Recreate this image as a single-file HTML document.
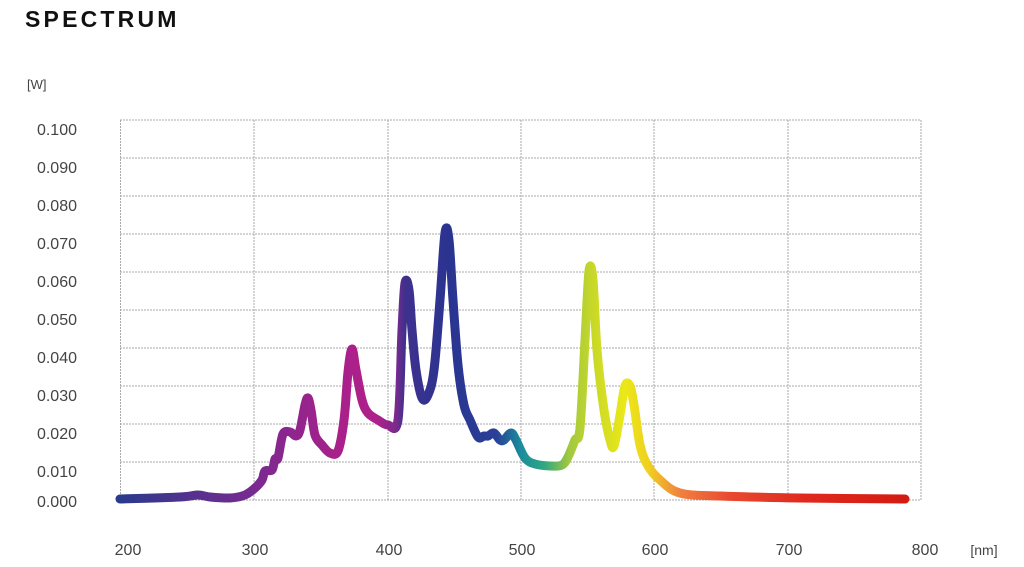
<!DOCTYPE html>
<html><head><meta charset="utf-8"><style>
html,body{margin:0;padding:0;background:#fff;}
svg{display:block;}
</style></head><body>
<svg width="1024" height="567" xmlns="http://www.w3.org/2000/svg">
<defs>
<linearGradient id="g" gradientUnits="userSpaceOnUse" x1="120" y1="0" x2="921" y2="0">
<stop offset="0" stop-color="#2a3a8c"/>
<stop offset="0.17" stop-color="#7a2a90"/>
<stop offset="0.27" stop-color="#a8208a"/>
<stop offset="0.32" stop-color="#b0208a"/>
<stop offset="0.345" stop-color="#7a2a8c"/>
<stop offset="0.355" stop-color="#40308e"/>
<stop offset="0.41" stop-color="#2a3490"/>
<stop offset="0.47" stop-color="#2a4098"/>
<stop offset="0.5" stop-color="#1a8c9c"/>
<stop offset="0.53" stop-color="#30a880"/>
<stop offset="0.56" stop-color="#a0c840"/>
<stop offset="0.59" stop-color="#c8d828"/>
<stop offset="0.63" stop-color="#eae818"/>
<stop offset="0.66" stop-color="#f0d020"/>
<stop offset="0.7" stop-color="#f08040"/>
<stop offset="0.76" stop-color="#e84a30"/>
<stop offset="0.85" stop-color="#e02a20"/>
<stop offset="1" stop-color="#d01a10"/>
</linearGradient>
</defs>
<text x="25" y="27" font-family="Liberation Sans, sans-serif" font-weight="bold" font-size="23" letter-spacing="3.2" fill="#111">SPECTRUM</text>
<text x="27" y="89" font-family="Liberation Sans, sans-serif" font-size="13" fill="#444">[W]</text>
<g stroke="#aaa" stroke-width="1" stroke-dasharray="2,1" fill="none">
<line x1="120" y1="120" x2="921" y2="120"/>
<line x1="120" y1="158" x2="921" y2="158"/>
<line x1="120" y1="196" x2="921" y2="196"/>
<line x1="120" y1="234" x2="921" y2="234"/>
<line x1="120" y1="272" x2="921" y2="272"/>
<line x1="120" y1="310" x2="921" y2="310"/>
<line x1="120" y1="348" x2="921" y2="348"/>
<line x1="120" y1="386" x2="921" y2="386"/>
<line x1="120" y1="424" x2="921" y2="424"/>
<line x1="120" y1="462" x2="921" y2="462"/>
<line x1="120" y1="500" x2="921" y2="500"/>
<line x1="120.5" y1="120" x2="120.5" y2="500"/>
<line x1="254" y1="120" x2="254" y2="500"/>
<line x1="388" y1="120" x2="388" y2="500"/>
<line x1="521" y1="120" x2="521" y2="500"/>
<line x1="654" y1="120" x2="654" y2="500"/>
<line x1="788" y1="120" x2="788" y2="500"/>
<line x1="921" y1="120" x2="921" y2="500"/>
</g>
<g font-family="Liberation Sans, sans-serif" font-size="16" fill="#444" text-anchor="end">
<text x="77" y="135">0.100</text>
<text x="77" y="173">0.090</text>
<text x="77" y="211">0.080</text>
<text x="77" y="249">0.070</text>
<text x="77" y="287">0.060</text>
<text x="77" y="325">0.050</text>
<text x="77" y="363">0.040</text>
<text x="77" y="401">0.030</text>
<text x="77" y="439">0.020</text>
<text x="77" y="477">0.010</text>
<text x="77" y="507">0.000</text>
</g>
<g font-family="Liberation Sans, sans-serif" font-size="16" fill="#444" text-anchor="middle">
<text x="128" y="555">200</text>
<text x="255" y="555">300</text>
<text x="389" y="555">400</text>
<text x="522" y="555">500</text>
<text x="655" y="555">600</text>
<text x="789" y="555">700</text>
<text x="925" y="555">800</text>
<text x="984" y="555" font-size="14">[nm]</text>
</g>
<path id="curve" fill="none" stroke="url(#g)" stroke-width="9" stroke-linejoin="round" stroke-linecap="round" d="M120,499 L905,499"/>
</svg>
<script>
var pts=[[120,499],[180,497],[198,495],[210,497],[230,498],[245,495],[255,488],[262,480],[265,471],[272,470],[275,459],[278,458],[283,434],[290,432],[296,436],[300,430],[305,405],[308,398],[311,410],[315,435],[322,445],[330,453],[338,451],[344,420],[348,372],[352,349],[356,370],[362,400],[368,413],[378,420],[388,425],[398,420],[402,330],[405,283],[409,290],[412,330],[416,370],[422,398],[428,395],[434,370],[440,300],[445,233],[449,240],[453,300],[458,365],[464,405],[470,420],[478,437],[484,436],[488,436],[494,433],[500,440],[504,440],[511,433],[516,440],[525,458],[535,464],[550,466],[562,465],[568,457],[575,440],[580,428],[585,340],[589,271],[593,280],[597,350],[604,410],[610,440],[614,446],[620,415],[625,386],[630,386],[634,405],[640,445],[648,466],[660,480],[680,493],[720,496],[800,498],[905,499]];
var d="M"+pts[0][0]+","+pts[0][1];
for(var i=0;i<pts.length-1;i++){
var p0=pts[Math.max(0,i-1)],p1=pts[i],p2=pts[i+1],p3=pts[Math.min(pts.length-1,i+2)];
var t=6;
var c1x=p1[0]+(p2[0]-p0[0])/t,c1y=p1[1]+(p2[1]-p0[1])/t;
var c2x=p2[0]-(p3[0]-p1[0])/t,c2y=p2[1]-(p3[1]-p1[1])/t;
d+=" C"+c1x.toFixed(1)+","+c1y.toFixed(1)+" "+c2x.toFixed(1)+","+c2y.toFixed(1)+" "+p2[0]+","+p2[1];
}
document.getElementById("curve").setAttribute("d",d);
</script>
</body></html>
